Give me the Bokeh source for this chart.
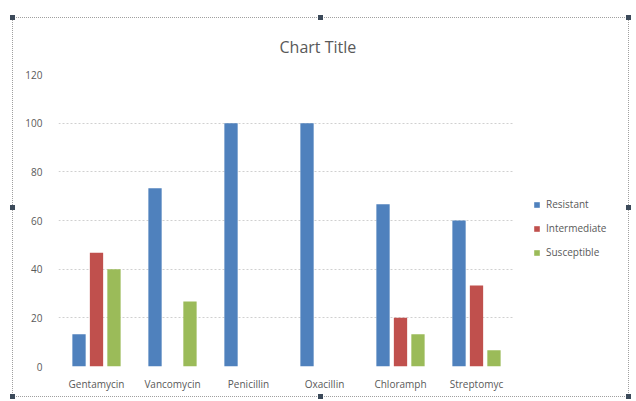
from bokeh.plotting import figure
from bokeh.layouts import row
from bokeh.models import ColumnDataSource, Legend, LegendItem, FixedTicker, InlineStyleSheet, Range1d
from bokeh.transform import dodge
from bokeh.embed import file_html
from bokeh.resources import INLINE

categories = ["Gentamycin", "Vancomycin", "Penicillin", "Oxacillin", "Chloramph", "Streptomyc"]
resistant = [13.3, 73.3, 100, 100, 66.7, 60]
intermediate = [46.7, 0, 0, 0, 20, 33.3]
susceptible = [40, 26.7, 0, 0, 13.3, 6.7]
series_names = ["Resistant", "Intermediate", "Susceptible"]
colors = ["#4F81BD", "#C0504D", "#9BBB59"]
y_ticks = [0, 20, 40, 60, 80, 100, 120]

FONT = "Open Sans"
GRAY = "#595959"

src = ColumnDataSource(dict(cat=categories, r=resistant, i=intermediate, s=susceptible))

css = InlineStyleSheet(css="""
:host { position: relative; }
:host::after {
  content: "";
  position: absolute;
  left: 12px; top: 17px; width: 615px; height: 378px;
  border: 1px dotted #A0A0A0;
  pointer-events: none;
  z-index: 5;
}
:host::before {
  content: "";
  position: absolute;
  left: 10px; top: 15px; width: 621px; height: 384px;
  background:
    linear-gradient(#3C4A5A,#3C4A5A) 0 0 / 5px 5px no-repeat,
    linear-gradient(#3C4A5A,#3C4A5A) 50% 0 / 5px 5px no-repeat,
    linear-gradient(#3C4A5A,#3C4A5A) 100% 0 / 5px 5px no-repeat,
    linear-gradient(#3C4A5A,#3C4A5A) 0 50% / 5px 5px no-repeat,
    linear-gradient(#3C4A5A,#3C4A5A) 100% 50% / 5px 5px no-repeat,
    linear-gradient(#3C4A5A,#3C4A5A) 0 100% / 5px 5px no-repeat,
    linear-gradient(#3C4A5A,#3C4A5A) 50% 100% / 5px 5px no-repeat,
    linear-gradient(#3C4A5A,#3C4A5A) 100% 100% / 5px 5px no-repeat;
  pointer-events: none;
  z-index: 6;
}
""")

p = figure(x_range=categories, y_range=(0, 120), width=520, height=401,
           output_backend="svg", toolbar_location=None,
           min_border_left=58, min_border_right=6, min_border_top=74, min_border_bottom=35)

p.title.text = "Chart Title"
p.title.align = "left"
p.title.offset = 221
p.title.text_font = FONT
p.title.text_font_size = "16px"
p.title.text_font_style = "normal"
p.title.text_color = GRAY
p.title.standoff = 34

for col, off, color in zip(["r", "i", "s"], [-0.23, 0.0, 0.23], colors):
    p.vbar(x=dodge("cat", off, range=p.x_range), top=col, width=0.175, source=src,
           fill_color=color, line_color=None)

p.outline_line_color = None
p.xgrid.grid_line_color = None
p.ygrid.grid_line_color = "#D0D0D0"
p.ygrid.grid_line_dash = "2 2"
p.yaxis.ticker = FixedTicker(ticks=y_ticks)

for ax in (p.xaxis, p.yaxis):
    ax.axis_line_color = None
    ax.major_tick_line_color = None
    ax.minor_tick_line_color = None
    ax.major_label_text_font = FONT
    ax.major_label_text_font_size = "10px"
    ax.major_label_text_color = GRAY
    ax.major_label_standoff = 10
p.xaxis.major_label_standoff = 4

# legend panel
p2 = figure(width=116, height=401, output_backend="svg", toolbar_location=None,
            x_range=Range1d(0, 1), y_range=Range1d(0, 1),
            min_border=0, min_border_left=0, min_border_right=0,
            min_border_top=0, min_border_bottom=0)
p2.axis.visible = False
p2.grid.visible = False
p2.outline_line_color = None
leg_renderers = [p2.vbar(x=[-5], top=[0], bottom=[0], width=0.1, fill_color=c, line_color=None)
                 for c in colors]

legend = Legend(items=[LegendItem(label=n, renderers=[r]) for n, r in zip(series_names, leg_renderers)],
                location=(13, 104), padding=0, margin=0, spacing=4,
                label_height=20, glyph_width=7, glyph_height=7,
                label_text_font=FONT, label_text_font_size="10px", label_text_color=GRAY,
                border_line_color=None, background_fill_alpha=0, label_standoff=6)
p2.add_layout(legend)

layout = row(p, p2, stylesheets=[css])

open("out.html", "w").write(file_html(layout, INLINE))
